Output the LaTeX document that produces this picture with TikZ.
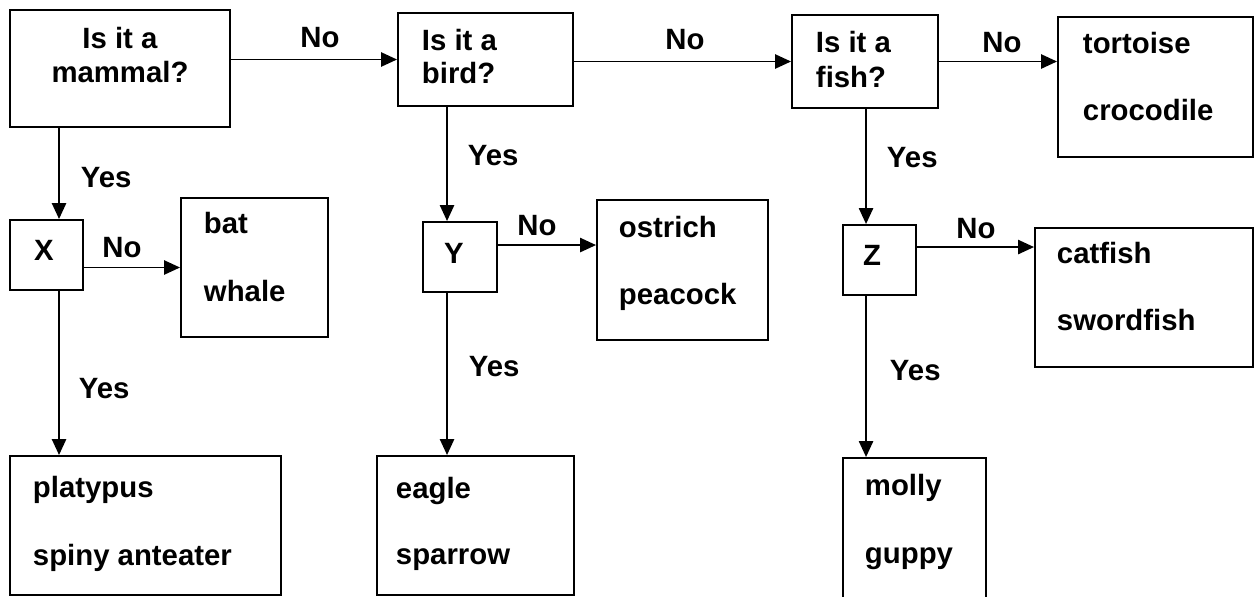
\documentclass[tikz,border=0pt]{standalone}
\usepackage{fontspec}
\setmainfont{Liberation Sans}
\usetikzlibrary{arrows.meta, calc, fit}
\tikzset{%
  every path/.style={line width=1.1pt},
    edge/.style={%
        -{Triangle[length=9pt, width=8pt]},
    },
    box/.style={%
        rectangle,
        draw=black,
        inner sep=0pt,
    },
    txt/.style={%
        anchor=base west,
        inner sep=0pt,
        font=\fontsize{16.7}{19.3}\selectfont\bfseries,
    },
    ctxt/.style={%
        txt,
        anchor=base,
    },
}

\begin{document}
\begin{tikzpicture}[x=0.02cm, y=-0.02cm]
	\useasboundingbox (0,0) rectangle (1260,596);

	\node [box, fit={(10,10) (230,127)}] (q_mammal) {};
	\node [box, fit={(398,13) (573,106)}] (q_bird) {};
	\node [box, fit={(792,15) (938,108)}] (q_fish) {};
	\node [box, fit={(1058,17) (1253,157)}] (res_tortoise) {};

	\node [box, fit={(10,220) (83,290)}] (box_x) {};
	\node [box, fit={(423,222) (497,292)}] (box_y) {};
	\node [box, fit={(843,225) (916,295)}] (box_z) {};

	\node [box, fit={(181,198) (328,337)}] (res_bat) {};
	\node [box, fit={(597,200) (768,340)}] (res_ostrich) {};
	\node [box, fit={(1035,228) (1253,367)}] (res_catfish) {};

	\node [box, fit={(10,456) (281,595)}] (res_platypus) {};
	\node [box, fit={(377,456) (574,595)}] (res_eagle) {};
	\node [box, fit={(843,458) (986,600)}] (res_molly) {};

	% texts in the boxes
	\node [ctxt] at (120,48) (t_mammal_a) {Is it a};
	\node [ctxt] at (120,82) (t_mammal_b) {mammal?};
	\node [txt] at (421,50) (t_bird_a) {Is it a};
	\node [txt] at (421,83) (t_bird_b) {bird?};
	\node [txt] at (815,52) (t_fish_a) {Is it a};
	\node [txt] at (815,87) (t_fish_b) {fish?};
	\node [txt] at (1082,53) (t_tortoise) {tortoise};
	\node [txt] at (1082,120) (t_crocodile) {crocodile};

	\node [ctxt] at (44,260) (t_x) {X};
	\node [ctxt] at (454,263) (t_y) {Y};
	\node [ctxt] at (872,265) (t_z) {Z};

	\node [txt] at (203,233) (t_bat) {bat};
	\node [txt] at (203,301) (t_whale) {whale};
	\node [txt] at (618,237) (t_ostrich) {ostrich};
	\node [txt] at (618,304) (t_peacock) {peacock};
	\node [txt] at (1056,263) (t_catfish) {catfish};
	\node [txt] at (1056,330) (t_swordfish) {swordfish};

	\node [txt] at (32,497) (t_platypus) {platypus};
	\node [txt] at (32,565) (t_anteater) {spiny anteater};
	\node [txt] at (395,498) (t_eagle) {eagle};
	\node [txt] at (395,564) (t_sparrow) {sparrow};
	\node [txt] at (864,495) (t_molly) {molly};
	\node [txt] at (864,563) (t_guppy) {guppy};

	% answers on the arrows
	\node [ctxt] at (320,47) (no_mammal) {No};
	\node [ctxt] at (685,49) (no_bird) {No};
	\node [ctxt] at (1002,52) (no_fish) {No};
	\node [ctxt] at (122,257) (no_x) {No};
	\node [ctxt] at (537,235) (no_y) {No};
	\node [ctxt] at (976,238) (no_z) {No};
	\node [txt] at (80,187) (yes_mammal) {Yes};
	\node [txt] at (467,165) (yes_bird) {Yes};
	\node [txt] at (886,167) (yes_fish) {Yes};
	\node [txt] at (78,398) (yes_x) {Yes};
	\node [txt] at (468,376) (yes_y) {Yes};
	\node [txt] at (889,380) (yes_z) {Yes};

	\coordinate (y_out) at ($(box_y.north east) + (0, 24)$);
	\coordinate (z_out) at ($(box_z.north east) + (0, 23)$);

	\draw[edge] (q_mammal.east |- q_bird.west) -- (q_bird.west);
	\draw[edge] (q_bird.east |- q_fish.west) -- (q_fish.west);
	\draw[edge] (q_fish.east) -- (q_fish.east -| res_tortoise.west);

	\draw[edge] ($(q_mammal.south west) + (50, 0)$) -- ($(box_x.north west) + (50, 0)$);
	\draw[edge] ($(box_x.south west) + (50, 0)$) -- ($(res_platypus.north west) + (50, 0)$);
	\draw[edge] (box_x.east |- res_bat.west) -- (res_bat.west);

	\draw[edge] ($(q_bird.south west) + (50, 0)$) -- ($(box_y.north west) + (25, 0)$);
	\draw[edge] ($(box_y.south west) + (25, 0)$) -- ($(res_eagle.north west) + (71, 0)$);
	\draw[edge] (y_out) -- (y_out -| res_ostrich.west);

	\draw[edge] ($(q_fish.south west) + (75, 0)$) -- ($(box_z.north west) + (24, 0)$);
	\draw[edge] ($(box_z.south west) + (24, 0)$) -- ($(res_molly.north west) + (24, 0)$);
	\draw[edge] (z_out) -- (z_out -| res_catfish.west);
\end{tikzpicture}
\end{document}
